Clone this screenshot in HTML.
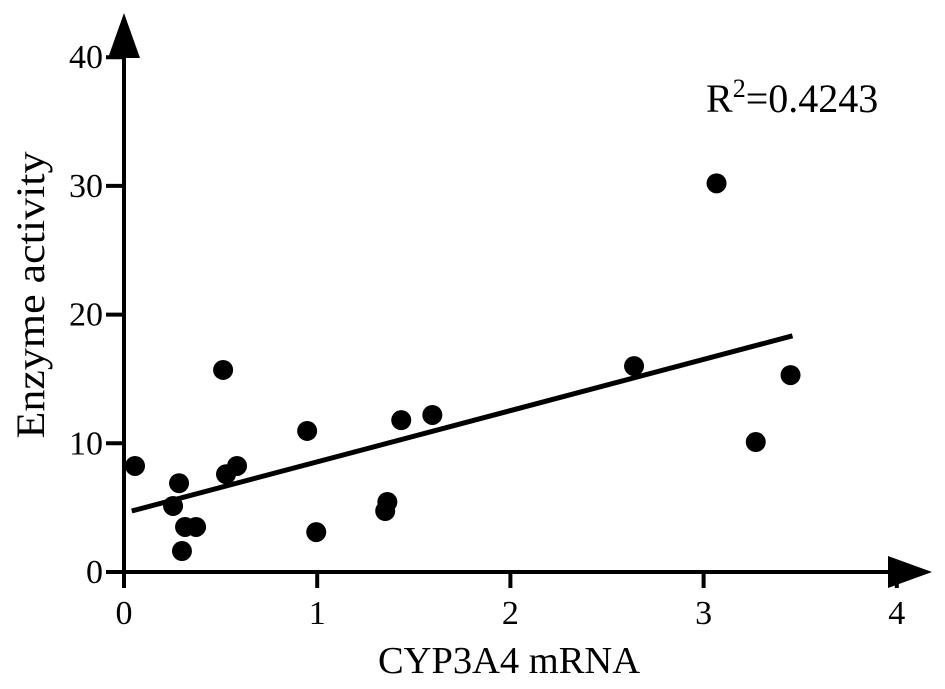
<!DOCTYPE html>
<html><head><meta charset="utf-8"><style>
html,body{margin:0;padding:0;background:#fff;}
svg text{font-family:"Liberation Serif",serif;fill:#000;}
</style></head><body>
<svg id="chart" width="945" height="684" viewBox="0 0 945 684" xmlns="http://www.w3.org/2000/svg"></svg>
<script>
const xVals=[0.057,0.254,0.285,0.316,0.30,0.373,0.513,0.528,0.585,0.948,0.995,1.352,1.363,1.435,1.596,2.64,3.067,3.27,3.45];
const yVals=[8.24,5.13,6.9,3.5,1.63,3.5,15.7,7.6,8.24,10.96,3.1,4.74,5.44,11.8,12.2,16.0,30.2,10.1,15.3];
const xTicks=[0,1,2,3,4];
const yTicks=[0,10,20,30,40];
const fitSlope=3.98;
const fitIntercept=4.58;
const fitRange=[0.04,3.46];
const r2Label="0.4243";

const svg=document.getElementById('chart');
const NS='http://www.w3.org/2000/svg';
const X0=124,XS=193.2,Y0=572,YS=12.87;
const sx=v=>X0+v*XS, sy=v=>Y0-v*YS;
function mk(t,a,parent){const e=document.createElementNS(NS,t);for(const k in a)e.setAttribute(k,a[k]);(parent||svg).appendChild(e);return e;}

const axes=mk('g',{});


let l=mk('line',{x1:X0,y1:Y0,x2:915,y2:Y0,stroke:'#000','stroke-width':4},axes);

l=mk('line',{x1:X0,y1:Y0,x2:X0,y2:40,stroke:'#000','stroke-width':4},axes);

let p=mk('polygon',{points:`${X0-16},58 ${X0+16},58 ${X0},13`,fill:'#000'},axes);

p=mk('polygon',{points:`888,${Y0-16} 888,${Y0+16} 932,${Y0}`,fill:'#000'},axes);


xTicks.forEach(t=>{
  const tk=mk('line',{x1:sx(t),y1:Y0,x2:sx(t),y2:588,stroke:'#000','stroke-width':4},axes);
  
  const tx=mk('text',{x:sx(t),y:624,'font-size':34,'text-anchor':'middle'},axes);
  tx.textContent=t;
  
});
yTicks.forEach(t=>{
  const tk=mk('line',{x1:106,y1:sy(t),x2:X0,y2:sy(t),stroke:'#000','stroke-width':4},axes);
  
  const tx=mk('text',{x:103,y:sy(t)+11,'font-size':34,'text-anchor':'end'},axes);
  tx.textContent=t;
  
});
let t=mk('text',{x:509,y:673,'font-size':38.5,'text-anchor':'middle'});
t.textContent='CYP3A4 mRNA';

t=mk('text',{x:0,y:0,'font-size':40,'text-anchor':'middle',transform:`translate(44,295) rotate(-90) scale(1.1,1)`});
t.textContent='Enzyme activity';


const fit=mk('line',{x1:sx(fitRange[0]),y1:sy(fitIntercept+fitSlope*fitRange[0]),x2:sx(fitRange[1]),y2:sy(fitIntercept+fitSlope*fitRange[1]),stroke:'#000','stroke-width':5});


xVals.forEach((x,i)=>{
  const c=mk('circle',{cx:sx(x),cy:sy(yVals[i]),r:10,fill:'#000'});
  
  
});

t=mk('text',{x:706,y:112,'font-size':40});
t.innerHTML='R<tspan dy="-15" font-size="26">2</tspan><tspan dy="15">='+r2Label+'</tspan>';

</script>
</body></html>
